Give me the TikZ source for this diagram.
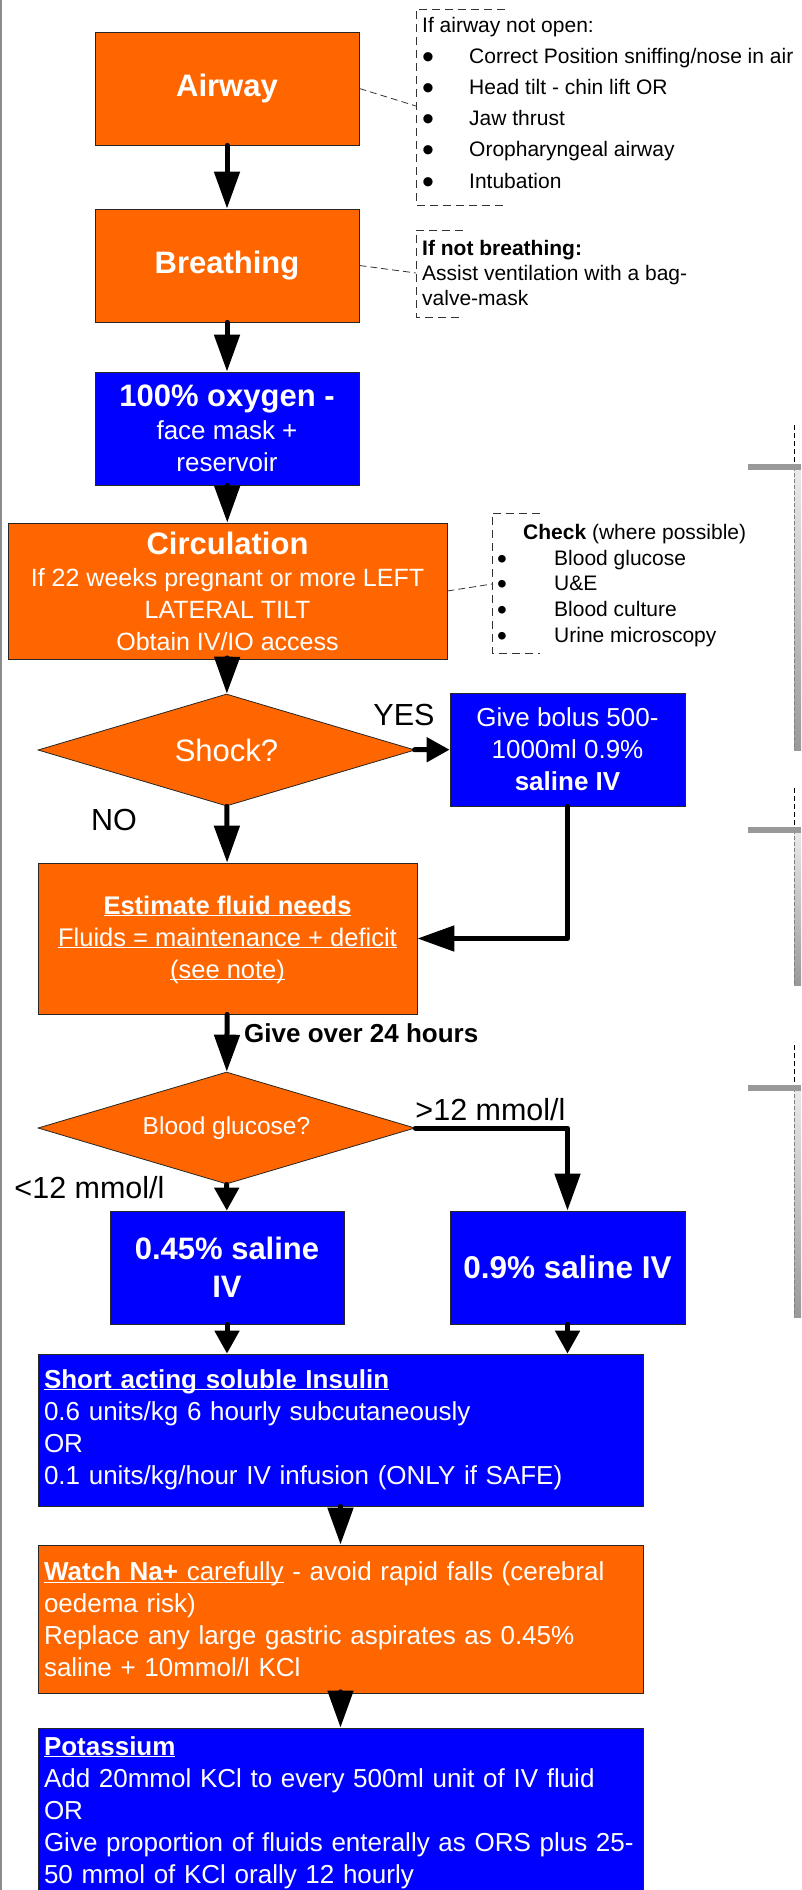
\documentclass[tikz,border=0pt]{standalone}
\usepackage{fontspec}
\setmainfont{Liberation Sans}
\usetikzlibrary{arrows.meta,shapes.geometric}
\definecolor{alsorange}{HTML}{FF6600}
\definecolor{alsblue}{HTML}{0000FF}
\newcommand{\fs}[2]{\fontsize{#1}{#2}\selectfont}
\newcommand{\uln}[1]{\underline{\smash{#1}\vphantom{A}}}
\newcommand{\bul}[3][34]{\makebox[#2][l]{\raisebox{#3}{\fs{#1}{#1}\textbullet}}}
\begin{document}
\begin{tikzpicture}[x=1pt,y=-1pt,
	box/.style={draw=black!85, line width=0.8pt, text=white, inner sep=0pt, align=center},
	obox/.style={box, fill=alsorange},
	bbox/.style={box, fill=alsblue},
	wbox/.style={text width=593pt, inner xsep=6pt, inner ysep=0pt, align=left, minimum width=605pt, font=\fs{26}{32}},
	decision/.style={diamond, aspect=3.366, draw=black!85, line width=0.8pt, fill=alsorange, text=white, inner sep=0pt, minimum width=377pt, minimum height=112pt},
	flow/.style={line width=5pt, line cap=round, line join=round, -{Triangle[length=37pt,width=25pt]}},
	flowsm/.style={line width=5pt, line cap=round, -{Triangle[length=23pt,width=24pt]}},
	lbl/.style={inner sep=0pt, font=\fs{30.5}{32}},
	note/.style={inner sep=0pt, anchor=west, align=left},
	bracket/.style={black!80, line width=1pt, dash pattern=on 8pt off 5pt},
	hook/.style={black!80, line width=0.8pt, dash pattern=on 7pt off 4pt}]
	\useasboundingbox (0,0) rectangle (801,1890);
	\clip (0,0) rectangle (801,1890);
	\draw [black!45, line width=1.5pt] (1,0) -- (1,1890);

	\node [obox, minimum width=264pt, minimum height=113pt, font=\fs{31}{38}\bfseries] (airway) at (227,88.5) {Airway};
	\node [obox, minimum width=264pt, minimum height=113pt, font=\fs{31}{38}\bfseries] (breathing) at (227,265.5) {Breathing};
	\node [bbox, minimum width=264pt, minimum height=113pt, font=\fs{26}{32}] (oxygen) at (227,428.5) {{\fs{31}{32}\bfseries 100\% oxygen -}\\[1pt]face mask +\\reservoir};
	\node [obox, minimum width=439pt, minimum height=136pt, font=\fs{25}{32}] (circulation) at (227.5,591) {{\fs{31}{32}\bfseries Circulation}\\If 22 weeks pregnant or more LEFT\\LATERAL TILT\\Obtain IV/IO access};
	\node [decision, font=\fs{31}{32}] (shock) at (226.5,750) {Shock?};
	\node [bbox, minimum width=235pt, minimum height=113pt, font=\fs{26}{32}] (bolus) at (567.5,749.5) {Give bolus 500-\\1000ml 0.9\%\\\textbf{saline IV}};
	\node [obox, minimum width=379pt, minimum height=151pt, font=\fs{25.5}{32}] (estimate) at (227.5,938.5) {\uln{\textbf{Estimate fluid needs}}\\\uln{Fluids = maintenance + deficit}\\\uln{(see note)}};
	\node [decision, font=\fs{24.5}{30}] (glucose) at (226.5,1128) {Blood glucose?};
	\node [bbox, minimum width=234pt, minimum height=113pt, font=\fs{31}{38}\bfseries] (halfsaline) at (227,1267.5) {0.45\% saline\\IV};
	\node [bbox, minimum width=235pt, minimum height=113pt, font=\fs{31.5}{38}\bfseries] (normsaline) at (567.5,1267.5) {0.9\% saline IV};
	\node [bbox, wbox, minimum height=152pt] (insulin) at (340.5,1430) {\uln{\textbf{Short acting soluble Insulin}}\\0.6 units/kg 6 hourly subcutaneously\\OR\\0.1 units/kg/hour IV infusion (ONLY if SAFE)};
	\node [obox, wbox, minimum height=148pt] (sodium) at (340.5,1619) {\uln{\textbf{Watch Na+} carefully} - avoid rapid falls (cerebral\\oedema risk)\\Replace any large gastric aspirates as 0.45\%\\saline + 10mmol/l KCl};
	\node [bbox, wbox, minimum height=170pt] (potassium) at (340.5,1813) {\uln{\textbf{Potassium}}\\Add 20mmol KCl to every 500ml unit of IV fluid\\OR\\\mbox{Give proportion of fluids enterally as ORS plus 25-}\\50 mmol of KCl orally 12 hourly};

	\draw [flow] (airway) -- (breathing);
	\draw [flow] (breathing) -- (oxygen);
	\draw [flow] (oxygen) -- (circulation);
	\draw [flow] (circulation) -- (shock);
	\draw [flowsm] (shock) -- (bolus);
	\draw [flow] (shock) -- (estimate);
	\draw [flow] (bolus) |- (estimate);
	\draw [flow] (estimate) -- (glucose);
	\draw [flowsm] (glucose) -- (halfsaline);
	\draw [flow] (glucose) -| (normsaline);
	\draw [flowsm] (halfsaline.south) -- (halfsaline.south |- insulin.north);
	\draw [flowsm] (normsaline.south) -- (normsaline.south |- insulin.north);
	\draw [flow] (insulin) -- (sodium);
	\draw [flow] (sodium) -- (potassium);

	\node [lbl] (yes) at (404,715) {YES};
	\node [lbl] (no) at (114,820) {NO};
	\node [lbl] (lowglu) at (89.5,1188) {<12 mmol/l};
	\node [lbl] (highglu) at (490.5,1110) {>12 mmol/l};
	\node [inner sep=0pt, anchor=west, font=\fs{26}{30}\bfseries] (overday) at (244,1033) {Give over 24 hours};

	\node [note, font=\fs{21}{31.2}] (airwaynote) at (422,105) {If airway not open:\\
		\bul{47pt}{-5pt}Correct Position sniffing/nose in air\\
		\bul{47pt}{-5pt}Head tilt - chin lift OR\\
		\bul{47pt}{-5pt}Jaw thrust\\
		\bul{47pt}{-5pt}Oropharyngeal airway\\
		\bul{47pt}{-5pt}Intubation};
	\draw [bracket] (505,9) -- (416,9) -- (416,205) -- (505,205);
	\coordinate (airwayhook) at (416,106);
	\draw [hook] (airway.east) -- (airwayhook);

	\node [note, font=\fs{21}{25}] (breathnote) at (422,273) {\textbf{If not breathing:}\\Assist ventilation with a bag-\\valve-mask};
	\draw [bracket] (463,230) -- (416,230) -- (416,317) -- (463,317);
	\coordinate (breathhook) at (416,273);
	\draw [hook] (breathing.east) -- (breathhook);

	\node [note, font=\fs{21}{25.75}] (checknote) at (497,585.5) {\hspace*{26pt}\textbf{Check} (where possible)\\
		\bul[28]{57pt}{-3pt}Blood glucose\\
		\bul[28]{57pt}{-3pt}U\&E\\
		\bul[28]{57pt}{-3pt}Blood culture\\
		\bul[28]{57pt}{-3pt}Urine microscopy};
	\draw [bracket] (540,513) -- (492,513) -- (492,653) -- (540,653);
	\coordinate (checkhook) at (492,584);
	\draw [hook] (circulation.east) -- (checkhook);

	\foreach \yd/\yb/\ye in {425/467/750, 788/830/985, 1045/1088/1317} {
		\draw [black, line width=1pt, dash pattern=on 5pt off 3pt] (794,\yd) -- (794,\yb);
		\shade [top color=black!8, bottom color=black!40] (794,\yb) rectangle (801,\ye);
		\draw [black!50, line width=0.8pt, dash pattern=on 4pt off 2pt] (794,\yb) -- (794,\ye);
		\fill [black!40] (748,\yb-3) rectangle (801,\yb+3);
	}
\end{tikzpicture}
\end{document}
